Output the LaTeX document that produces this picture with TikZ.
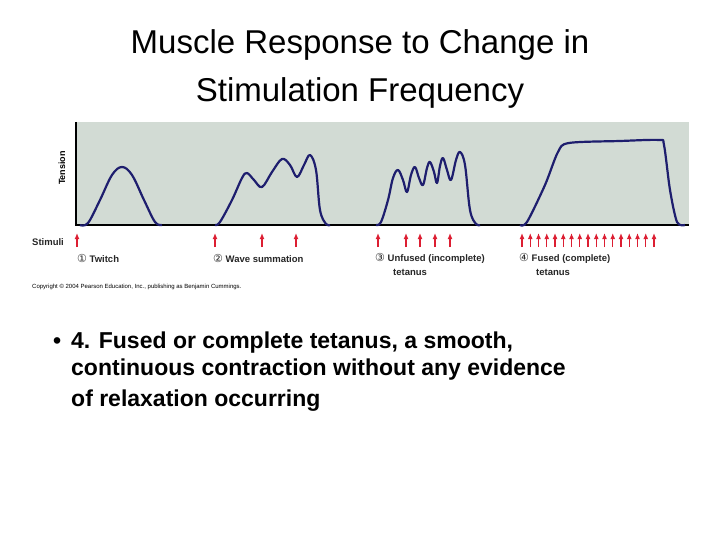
\documentclass[tikz,border=0pt]{standalone}
\usepackage{fontspec}
\usetikzlibrary{arrows.meta}
\setmainfont{Liberation Sans}
\newfontfamily\djfont{DejaVu Sans}
\begin{document}
\begin{tikzpicture}[x=1pt,y=-1pt,
  curve/.style={line width=2.2pt,draw={rgb,255:red,30;green,30;blue,110},line join=round},
  stim/.style={draw={rgb,255:red,220;green,30;blue,50},line width=1.3pt,-{Latex[length=6pt,width=5pt]}},
  lab/.style={font=\bfseries\fontsize{9.5}{10}\selectfont,anchor=west,inner sep=0pt,text=black!85},
  btxt/.style={font=\bfseries\fontsize{23}{29}\selectfont,anchor=base west,inner sep=0pt}]
\useasboundingbox (0,0) rectangle (720,540);
\fill[fill={rgb,255:red,210;green,219;blue,212}] (76,122) rectangle (689,225);
\draw[line width=1.2pt] (76,122) -- (76,225) -- (689,225);
\node[rotate=90,font=\bfseries\fontsize{9}{9}\selectfont] (tens) at (62,168) {Tension};
% curves
\draw[curve] plot[smooth,tension=0.6] coordinates {(80,225)(88,223)(100,200)(112,175)(122,167)(132,175)(144,200)(155,222)(162,225)};
\draw[curve] plot[smooth,tension=0.6] coordinates {(215,225)(220,222)(232,200)(242,178)(247,173)(254,180)(262,187)(272,172)(282,159)(290,165)(297,177)(304,165)(310,155)(316,170)(320,210)(326,224)(330,225)};
\draw[curve] plot[smooth,tension=0.6] coordinates {(376,225)(381,222)(388,200)(393,178)(398,170)(403,180)(407,192)(411,175)(415,167)(419,178)(423,185)(427,168)(430,162)(434,172)(437,183)(440,166)(443,158)(447,170)(451,180)(456,160)(460,152)(465,165)(470,210)(476,224)(480,225)};
\draw[curve] plot[smooth,tension=0.5] coordinates {(520,225)(527,222)(545,185)(558,152)(569,143)(620,141)(659,140)(664,145)(670,190)(677,222)(685,225)};
% stimuli
\node[lab] (stl) at (32,242) {Stimuli};
\foreach \x in {77,215,262,296,378,406,420,435,450}
  \draw[stim] (\x,247) -- (\x,233);
\foreach \i in {0,...,16}
  \draw[stim] ({522+\i*8.25},247) -- ({522+\i*8.25},233);
\node[lab] (l1) at (77,258) {{\djfont\mdseries\fontsize{11}{11}\selectfont ①} Twitch};
\node[lab] (l2) at (213,258) {{\djfont\mdseries\fontsize{11}{11}\selectfont ②} Wave summation};
\node[lab] (l3) at (375,258) {{\djfont\mdseries\fontsize{11}{11}\selectfont ③} Unfused (incomplete)};
\node[lab] (l3b) at (393,272) {tetanus};
\node[lab] (l4) at (519,258) {{\djfont\mdseries\fontsize{11}{11}\selectfont ④} Fused (complete)};
\node[lab] (l4b) at (536,272) {tetanus};
\node[anchor=west,inner sep=0pt,font=\fontsize{6}{6}\selectfont] (copy) at (32,287) {Copyright \textcopyright{} 2004 Pearson Education, Inc., publishing as Benjamin Cummings.};
% title
\node[font=\fontsize{33}{48}\selectfont,align=center] (title) at (360,69) {Muscle Response to Change in\\Stimulation Frequency};
% bullet
\node[btxt] (bul) at (53,348) {•};
\node[btxt] (b1) at (71,348) {4. Fused or complete tetanus, a smooth,};
\node[btxt] (b2) at (71,375) {continuous contraction without any evidence};
\node[btxt] (b3) at (71,406) {of relaxation occurring};
\end{tikzpicture}
\end{document}
